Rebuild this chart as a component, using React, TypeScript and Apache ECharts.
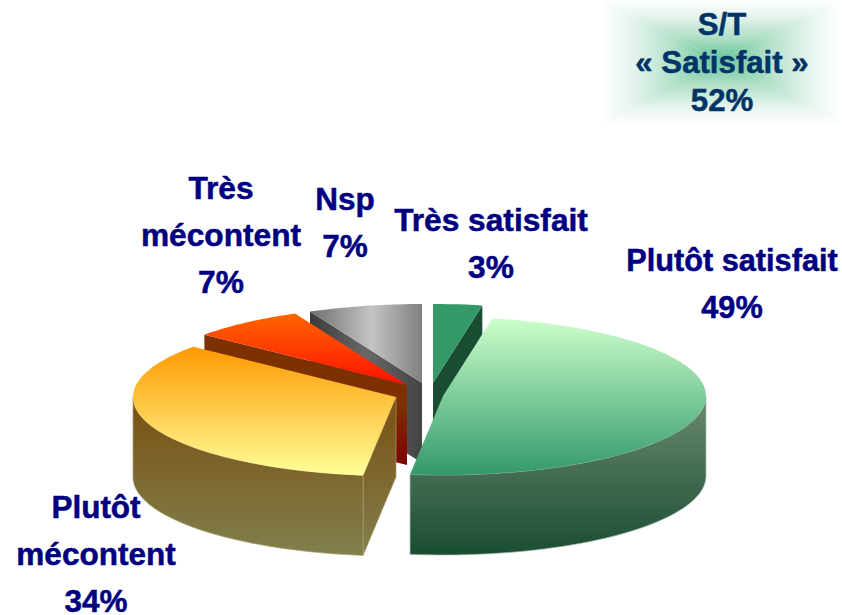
import React, { useEffect, useRef } from "react";
import * as echarts from "echarts";

const sliceNames = ["Très satisfait", "Plutôt satisfait", "Plutôt\nmécontent", "Très\nmécontent", "Nsp"];
const sliceValues = [3, 49, 34, 7, 7];
const summaryLines = ["S/T", "« Satisfait »", "52%"];

const fontOf = (size: number) => `bold ${size}px "Liberation Sans", Arial, sans-serif`;
const labelSizes = [31.7, 30.7, 31.5, 31.7, 31.5];
const RX = 263;
const RY = 79;
const DEPTH = 80;
const centers = [[433, 383], [443, 396], [396, 397], [407, 385], [422, 383]];
const labelPos = [[491, 243], [732, 284], [96, 554], [221, 235], [345, 222]];
const drawOrder = [1, 5, 4, 3, 2];

const vert = (a: string, b: string) => ({
  type: "linear", x: 0, y: 0, x2: 0, y2: 1,
  colorStops: [{ offset: 0, color: a }, { offset: 1, color: b }],
});
const horiz = (stops: [number, string][]) => ({
  type: "linear", x: 0, y: 0, x2: 1, y2: 0,
  colorStops: stops.map(([offset, color]) => ({ offset, color })),
});

const topFills = [
  "#339966",
  vert("#ccffcc", "#33996a"),
  vert("#ff9900", "#ffff99"),
  vert("#ff6600", "#ff1000"),
  horiz([[0, "#6e6e6e"], [0.55, "#c4c4c4"], [1, "#808080"]]),
];
const wallFills = [
  "#1a4d33",
  vert("#6b8a70", "#1a4d33"),
  vert("#7a4f10", "#80804d"),
  "#7a3000",
  "#444444",
];
const cutFills = [
  "#1a4d33",
  "#1a4d33",
  vert("#7a4f10", "#80804d"),
  {
    type: "linear", x: 0, y: 0, x2: 0, y2: 1,
    colorStops: [
      { offset: 0, color: "#7d3000" },
      { offset: 0.55, color: "#7d3000" },
      { offset: 1, color: "#800000" },
    ],
  },
  horiz([[0, "#3c3c3c"], [0.5, "#686868"], [1, "#444444"]]),
];
const wallEdges = [null, "#a9b9ad", "#a89c70", null, null];

const rad = (d: number) => (d * Math.PI) / 180;

function renderItem(params: any, api: any) {
  const i = params.dataIndex;
  const total = sliceValues.reduce((s, v) => s + v, 0);
  const before = sliceValues.slice(0, i).reduce((s, v) => s + v, 0);
  const a0 = (before / total) * 360;
  const a1 = a0 + (api.value(0) / total) * 360;
  const [cx, cy] = centers[i];
  const pt = (deg: number) => [cx + RX * Math.sin(rad(deg)), cy - RY * Math.cos(rad(deg))];
  const arc = (from: number, to: number) => {
    const pts: number[][] = [];
    const n = Math.max(2, Math.ceil((to - from) / 2));
    for (let k = 0; k <= n; k++) pts.push(pt(from + ((to - from) * k) / n));
    return pts;
  };
  const down = (p: number[]) => [p[0], p[1] + DEPTH];
  const z = drawOrder[i] * 10;
  const edge = wallEdges[i];
  const wallStyle = (fill: any) =>
    edge ? { fill, stroke: edge, lineWidth: 0.7 } : { fill };
  const children: any[] = [];

  // cut face at the start of the slice, when it looks toward the viewer
  if (Math.cos(rad(a0 - 90)) < -0.001) {
    const e = pt(a0);
    children.push({
      type: "polygon", z2: z,
      shape: { points: [e, [cx, cy], down([cx, cy]), down(e)] },
      style: wallStyle(cutFills[i]),
    });
  }
  // cut face at the end of the slice
  if (Math.cos(rad(a1 + 90)) < -0.001) {
    const e = pt(a1);
    children.push({
      type: "polygon", z2: z,
      shape: { points: [e, [cx, cy], down([cx, cy]), down(e)] },
      style: wallStyle(cutFills[i]),
    });
  }
  // outer rim, front half only
  const w0 = Math.max(a0, 90);
  const w1 = Math.min(a1, 270);
  if (w1 > w0) {
    const top = arc(w0, w1);
    children.push({
      type: "polygon", z2: z + 1,
      shape: { points: [...top, ...top.slice().reverse().map(down)] },
      style: wallStyle(wallFills[i]),
    });
  }
  // top face
  children.push({
    type: "polygon", z2: z + 2,
    shape: { points: [[cx, cy], ...arc(a0, a1)] },
    style: { fill: topFills[i] },
  });
  // label
  children.push({
    type: "text", z2: 100,
    style: {
      text: `${sliceNames[i]}\n${api.value(0)}%`,
      x: labelPos[i][0], y: labelPos[i][1],
      align: "center", verticalAlign: "middle",
      font: fontOf(labelSizes[i]), lineHeight: 47, fill: "#000080",
      stroke: "#000080", lineWidth: 0.5,
    },
  });
  return { type: "group", children };
}

const BX0 = 600, BX1 = 842, BY0 = 0, BY1 = 124, BCX = 721, BCY = 60;
const glow = (x: number, y: number, x2: number, y2: number) => ({
  type: "linear", x, y, x2, y2,
  colorStops: [
    { offset: 0, color: "#66c598" },
    { offset: 0.4, color: "#b4e1ca" },
    { offset: 0.75, color: "#e8f5ef" },
    { offset: 1, color: "#ffffff" },
  ],
});

export default function App() {
  const ref = useRef<HTMLDivElement>(null);
  useEffect(() => {
    document.body.style.margin = "0";
    const chart = echarts.init(ref.current!, null, { renderer: "svg" });
    chart.setOption({
      animation: false,
      backgroundColor: "#ffffff",
      graphic: [
        { type: "polygon", z: 1, shape: { points: [[BCX, BCY], [BX0, BY0], [BX1, BY0]] }, style: { fill: glow(0, 1, 0, 0) } },
        { type: "polygon", z: 1, shape: { points: [[BCX, BCY], [BX0, BY1], [BX1, BY1]] }, style: { fill: glow(0, 0, 0, 1) } },
        { type: "polygon", z: 1, shape: { points: [[BCX, BCY], [BX0, BY0], [BX0, BY1]] }, style: { fill: glow(1, 0, 0, 0) } },
        { type: "polygon", z: 1, shape: { points: [[BCX, BCY], [BX1, BY0], [BX1, BY1]] }, style: { fill: glow(0, 0, 1, 0) } },
        {
          type: "text", z: 2,
          style: {
            text: summaryLines.join("\n"), x: 722, y: 62,
            align: "center", verticalAlign: "middle",
            font: fontOf(31.2), lineHeight: 38, fill: "#003366",
            stroke: "#003366", lineWidth: 0.5,
          },
        },
      ],
      series: [
        {
          type: "custom",
          coordinateSystem: "none",
          renderItem,
          silent: true,
          data: sliceValues.map((v) => [v]),
        },
      ],
    });
    return () => chart.dispose();
  }, []);
  return <div ref={ref} style={{ width: 842, height: 615 }} />;
}
